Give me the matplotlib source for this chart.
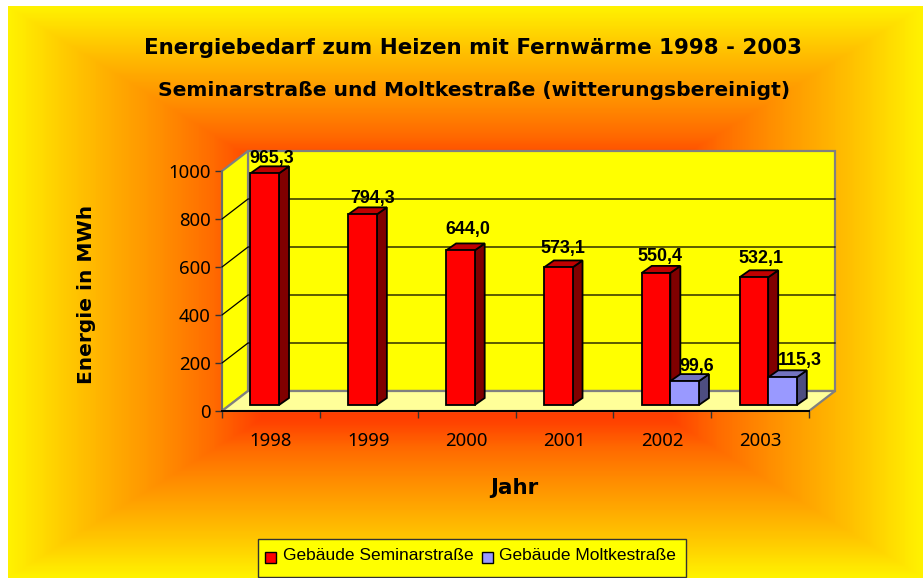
import numpy as np
import matplotlib
matplotlib.use('Agg')
import matplotlib.pyplot as plt
from matplotlib.colors import LinearSegmentedColormap
from matplotlib.patches import Polygon, Rectangle

# Data
years = ['1998', '1999', '2000', '2001', '2002', '2003']
seminar = [965.3, 794.3, 644.0, 573.1, 550.4, 532.1]
moltke = [None, None, None, None, 99.6, 115.3]
seminar_labels = ['965,3', '794,3', '644,0', '573,1', '550,4', '532,1']
moltke_labels = [None, None, None, None, '99,6', '115,3']
y_ticks = [0, 200, 400, 600, 800, 1000]

# label offsets from the top centre of a bar, in pixels
seminar_off = [(7.5, 15), (10, 16), (7, 21), (5, 19), (4, 16), (7, 19)]
moltke_off = [None, None, None, None, (12, 15), (17, 17)]

W, H = 923, 578
fig = plt.figure(figsize=(W / 100, H / 100), dpi=100)

# background gradient, rectangular contours around the centre
bg = fig.add_axes([0, 0, 1, 1], zorder=0)
bg.axis('off')
left, right, top, bottom = 8, 923, 6, 578
xx, yy = np.meshgrid(np.linspace(0, 1, 460), np.linspace(0, 1, 290))
t = np.maximum(np.abs(xx - 0.5), np.abs(yy - 0.5)) * 2
grad = LinearSegmentedColormap.from_list('grad', [(0, '#ff2a00'), (0.45, '#ff4000'), (0.55, '#ff6a00'), (0.66, '#ff8c00'),
                                                  (0.76, '#ffa800'), (0.87, '#ffc800'), (1, '#fff200')])
bg.imshow(t, cmap=grad, extent=[left, right, bottom, top], aspect='auto', interpolation='bilinear', vmin=0, vmax=1)
bg.set_xlim(0, W)
bg.set_ylim(H, 0)

# front plane of the chart
ax = fig.add_axes([222 / W, 1 - 411 / H, 587 / W, 240 / H], zorder=1)
ax.set_xlim(0, 6)
ax.set_ylim(0, 1000)
ax.patch.set_visible(False)
for s in ['top', 'right']:
    ax.spines[s].set_visible(False)
ax.spines['left'].set_color('#666666')
ax.spines['bottom'].set_color('black')
ax.spines['left'].set_linewidth(1.2)
ax.spines['bottom'].set_linewidth(1.2)

# depth of the box in data units
dx = 26 / 97.8
dy = 20 / 0.24
# depth of a bar and its offset in the box
bx = 10 / 97.8
by = 7 / 0.24
base_y = 6 / 0.24
bw = 28.6 / 97.8
pad = 28.4 / 97.8


def poly(pts, fc, ec='none', lw=0, z=2):
    ax.add_patch(Polygon(pts, closed=True, facecolor=fc, edgecolor=ec, linewidth=lw, zorder=z, clip_on=False))


poly([(dx, dy), (6 + dx, dy), (6 + dx, 1000 + dy), (dx, 1000 + dy)], '#ffff00', '#808080', 1.6)
poly([(0, 0), (dx, dy), (dx, 1000 + dy), (0, 1000)], '#ffff00', '#808080', 1.6)
poly([(0, 0), (6, 0), (6 + dx, dy), (dx, dy)], '#ffff99', '#808080', 1.6)
ax.plot([0, 6], [0, 0], color='black', lw=1.3, zorder=3, clip_on=False)

for v in y_ticks[1:-1]:
    ax.plot([0, dx, 6 + dx], [v, v + dy, v + dy], color='black', lw=0.9, zorder=3, clip_on=False)


def bar(x0, width, val, front, side, topc, z):
    lw = 1.3
    y0 = base_y
    y1 = base_y + val
    poly([(x0 + width, y0), (x0 + width + bx, y0 + by), (x0 + width + bx, y1 + by), (x0 + width, y1)], side, 'black', lw, z)
    poly([(x0, y1), (x0 + width, y1), (x0 + width + bx, y1 + by), (x0 + bx, y1 + by)], topc, 'black', lw, z)
    poly([(x0, y0), (x0 + width, y0), (x0 + width, y1), (x0, y1)], front, 'black', lw, z)


lab = dict(family='Liberation Sans', fontweight='bold', fontsize=12.9, color='black', ha='center', va='center',
           zorder=20, annotation_clip=False, textcoords='offset pixels')
for i, val in enumerate(seminar):
    bar(i + pad, bw, val, '#ff0000', '#800000', '#c00000', 5 + i * 2)
    ax.annotate(seminar_labels[i], (i + pad + bw / 2, val + base_y), xytext=seminar_off[i], **lab)
for i, val in enumerate(moltke):
    if val is None:
        continue
    bar(i + pad + bw, bw, val, '#9999ff', '#4d4d80', '#7373bf', 6 + i * 2)
    ax.annotate(moltke_labels[i], (i + pad + bw * 1.5, val + base_y), xytext=moltke_off[i], **lab)

ax.set_xticks(range(7))
ax.set_xticklabels([])
ax.set_xticks(np.arange(6) + 0.5, years, minor=True)
ax.tick_params(axis='x', which='major', length=5, width=1, color='#333333')
ax.tick_params(axis='x', which='minor', length=0, pad=15, labelsize=13.4)
ax.set_yticks(y_ticks)
ax.tick_params(axis='y', length=5, width=1, color='#333333', labelsize=13.4, pad=3)
for label in ax.get_xticklabels(minor=True) + ax.get_yticklabels():
    label.set_family('Noto Sans')

# titles
tk = dict(family='DejaVu Sans', fontweight='bold', color='black', ha='center', va='center')
bg.text(473.5, 48, 'Energiebedarf zum Heizen mit Fernwärme 1998 - 2003', fontsize=15.4, **tk)
bg.text(474.5, 90, 'Seminarstraße und Moltkestraße (witterungsbereinigt)', fontsize=14.6, **tk)
bg.text(514, 488, 'Jahr', fontsize=15.5, **tk)
bg.text(87, 294, 'Energie in MWh', fontsize=14.5, rotation=90, **tk)

# legend
bg.add_patch(Rectangle((258, 539), 428, 37.5, facecolor='#ffff00', edgecolor='#333333', linewidth=1))
bg.add_patch(Rectangle((265, 552), 10.5, 10.5, facecolor='#ff0000', edgecolor='black', linewidth=1))
bg.add_patch(Rectangle((482, 552), 10.5, 10.5, facecolor='#9999ff', edgecolor='black', linewidth=1))
leg = dict(family='Liberation Sans', fontsize=12.5, color='black', ha='left', va='center')
bg.text(283, 556, 'Gebäude Seminarstraße', **leg)
bg.text(499, 556, 'Gebäude Moltkestraße', **leg)

fig.savefig('out.png', dpi=100)
